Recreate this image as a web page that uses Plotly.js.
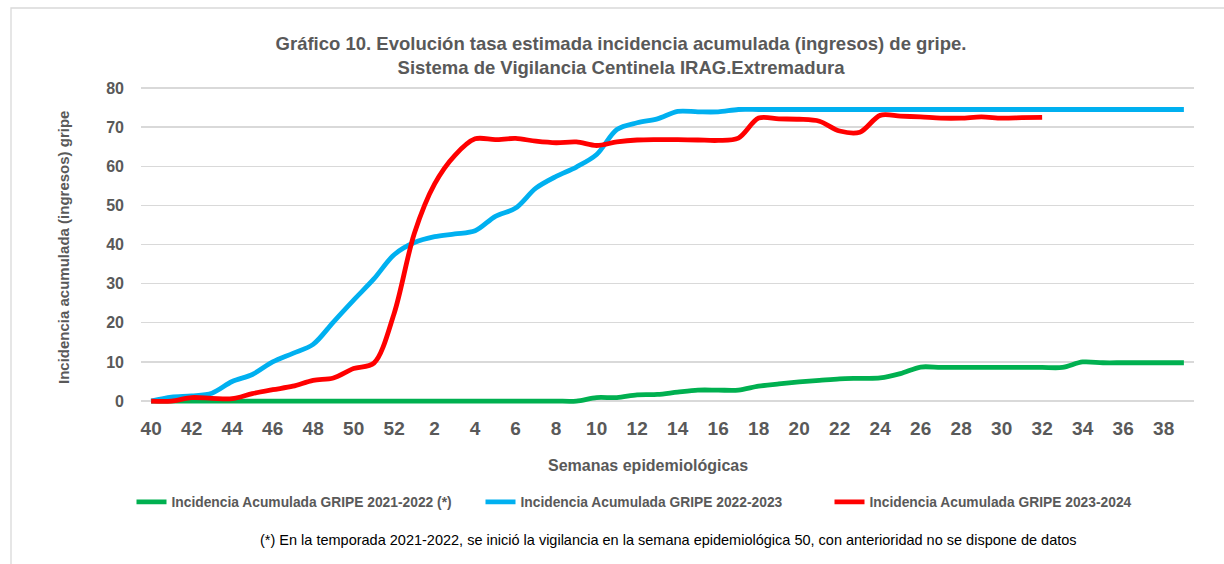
<!DOCTYPE html>
<html>
<head>
<meta charset="utf-8">
<script src="https://cdn.plot.ly/plotly-3.0.1.min.js"></script>
<style>
  html, body { margin: 0; padding: 0; background: #ffffff; }
  #chart { width: 1224px; height: 564px; }
</style>
</head>
<body>
<div id="chart"></div>
<script>
// Epidemiological weeks (season runs week 40 to week 39 of next year)
const semanas = [40,41,42,43,44,45,46,47,48,49,50,51,52,
  1,2,3,4,5,6,7,8,9,10,11,12,13,14,15,16,17,18,19,20,21,22,23,24,25,26,27,28,29,30,31,32,33,34,35,36,37,38,39];

const serie2122Nombre = "Incidencia Acumulada GRIPE 2021-2022 (*)";
const serie2223Nombre = "Incidencia Acumulada GRIPE 2022-2023";
const serie2324Nombre = "Incidencia Acumulada GRIPE 2023-2024";

const gripe2122 = [0,0,0,0,0,0,0,0,0,0,0,0,0,
  0,0,0,0,0,0,0,0,0,0.9,0.9,1.6,1.7,2.3,2.8,2.8,2.8,3.8,4.4,4.9,5.3,5.7,5.8,5.9,7.0,8.7,8.6,8.6,8.6,8.6,8.6,8.6,8.6,10.0,9.8,9.8,9.8,9.8,9.8];

const gripe2223 = [0,1.0,1.3,2.0,5.0,6.8,10.0,12.2,14.5,20.2,25.8,31.2,37.4,
  40.5,42.0,42.7,43.5,47.2,49.3,54.4,57.4,59.8,63.0,69.4,71.1,72.1,74.0,73.9,73.9,74.5,74.5,74.5,74.5,74.5,74.5,74.5,74.5,74.5,74.5,74.5,74.5,74.5,74.5,74.5,74.5,74.5,74.5,74.5,74.5,74.5,74.5,74.5];

const gripe2324 = [0,0,0.9,0.7,0.6,1.9,2.9,3.8,5.3,5.9,8.3,9.7,22.4,
  42.9,55.5,62.8,67.0,66.8,67.1,66.4,66.0,66.2,65.3,66.2,66.7,66.8,66.8,66.7,66.6,67.2,72.3,72.1,72.0,71.5,69.0,68.7,73.0,72.8,72.6,72.3,72.3,72.6,72.3,72.4,72.5];

const titulo = "Gráfico 10. Evolución tasa estimada incidencia acumulada (ingresos) de gripe.<br>Sistema de Vigilancia Centinela IRAG.Extremadura";
const tituloX = "Semanas epidemiológicas";
const tituloY = "Incidencia acumulada (ingresos) gripe";
const nota = "(*) En la temporada 2021-2022, se inició la vigilancia en la semana epidemiológica 50, con anterioridad no se dispone de datos";
const yTicks = [0,10,20,30,40,50,60,70,80];

const idx = semanas.map((s, i) => i);
const tickIdx = idx.filter(i => semanas[i] % 2 === 0);
const tickTxt = tickIdx.map(i => String(semanas[i]));

const FONT = "Liberation Sans, Arial, sans-serif";
const GRAY = "#595959";

function serie(vals, name, color) {
  return {
    x: idx.slice(0, vals.length),
    y: vals,
    name: name,
    type: "scatter",
    mode: "lines",
    line: { color: color, width: 4.8, shape: "spline", smoothing: 0.9 },
    hoverinfo: "x+y"
  };
}

const data = [
  serie(gripe2122, serie2122Nombre, "#00B050"),
  serie(gripe2223, serie2223Nombre, "#00B0F0"),
  serie(gripe2324, serie2324Nombre, "#FF0000")
];

const layout = {
  width: 1224,
  height: 564,
  margin: { l: 141, r: 30, t: 86, b: 159 },
  paper_bgcolor: "#ffffff",
  plot_bgcolor: "#ffffff",
  font: { family: FONT, color: GRAY },
  showlegend: true,
  title: {
    text: titulo,
    font: { family: FONT, size: 18.5, color: GRAY, weight: "bold" },
    xref: "container", x: 621/1224, xanchor: "center",
    yref: "container", y: 1 - 50/564, yanchor: "top"
  },
  xaxis: {
    range: [-0.5, 51.5],
    tickmode: "array",
    tickvals: tickIdx,
    ticktext: tickTxt,
    tickfont: { family: FONT, size: 19, color: GRAY, weight: "bold" },
    ticks: "",
    ticklabelstandoff: 10,
    showgrid: false,
    zeroline: false,
    showline: false,
    fixedrange: true
  },
  yaxis: {
    range: [-1, 80.5],
    tickmode: "array",
    tickvals: yTicks,
    tickfont: { family: FONT, size: 16, color: GRAY, weight: "bold" },
    ticks: "",
    ticklabelstandoff: 16,
    showgrid: true,
    gridcolor: "#D9D9D9",
    gridwidth: 1.3,
    zeroline: false,
    showline: false,
    fixedrange: true
  },
  legend: {
    orientation: "h",
    xref: "container", x: 655/1224, xanchor: "center",
    yref: "container", y: 1 - 502/564, yanchor: "middle",
    font: { family: FONT, size: 13.8, color: GRAY, weight: "bold" },
    entrywidth: 304,
    bgcolor: "rgba(0,0,0,0)"
  },
  annotations: [
    {
      text: tituloX, xref: "paper", yref: "paper",
      x: (648-141)/1053, y: (405-465)/319, xanchor: "center", yanchor: "middle",
      showarrow: false,
      font: { family: FONT, size: 16, color: GRAY, weight: "bold" }
    },
    {
      text: tituloY, xref: "paper", yref: "paper", textangle: -90,
      x: (63-141)/1053, y: (405-248)/319, xanchor: "center", yanchor: "middle",
      showarrow: false,
      font: { family: FONT, size: 15, color: GRAY, weight: "bold" }
    },
    {
      text: nota, xref: "paper", yref: "paper",
      x: (668-141)/1053, y: (405-540)/319, xanchor: "center", yanchor: "middle",
      showarrow: false,
      font: { family: FONT, size: 14.5, color: "#000000" }
    }
  ],
  shapes: [
    {
      type: "rect", xref: "paper", yref: "paper", layer: "below",
      x0: (11-141)/1053, x1: (1240-141)/1053,
      y0: (405-580)/319, y1: (405-8)/319,
      line: { color: "#D9D9D9", width: 1.3 }, fillcolor: "rgba(0,0,0,0)"
    }
  ]
};

Plotly.newPlot("chart", data, layout, { staticPlot: true, displayModeBar: false });
</script>
</body>
</html>
